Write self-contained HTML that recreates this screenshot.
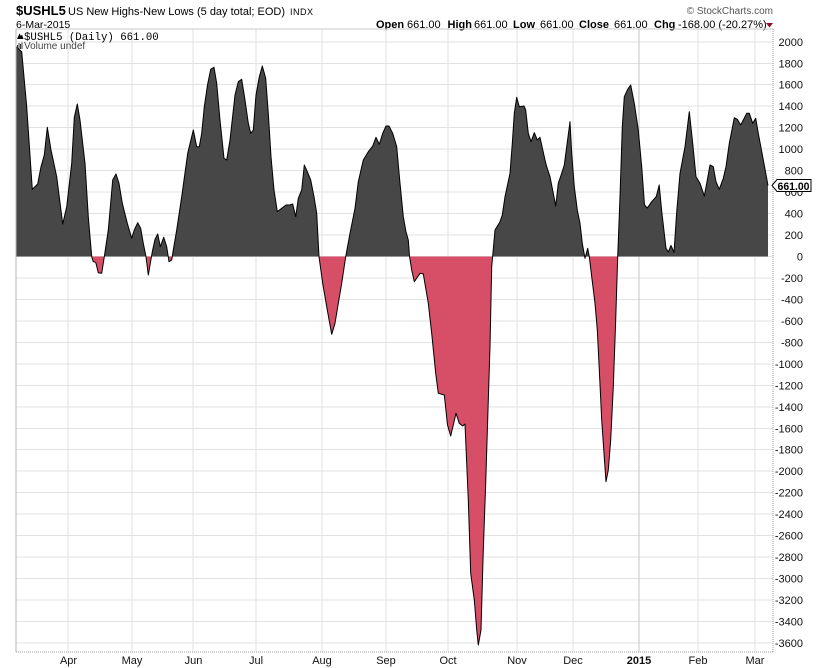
<!DOCTYPE html>
<html><head><meta charset="utf-8"><style>
html,body{margin:0;padding:0;background:#fff;}
svg{display:block;}
text{font-family:"Liberation Sans",Arial,sans-serif;}
</style></head><body>
<svg width="820" height="668" viewBox="0 0 820 668" xmlns="http://www.w3.org/2000/svg">
<rect x="0" y="0" width="820" height="668" fill="#fff"/>
<!-- header -->
<text x="16" y="15" font-size="13" font-weight="bold" fill="#000">$USHL5</text>
<text x="68" y="15" font-size="11" fill="#000">US New Highs-New Lows (5 day total; EOD)</text>
<text x="290" y="15" font-size="9" fill="#000" letter-spacing="0.5">INDX</text>
<text x="16" y="28" font-size="10.5" fill="#000">6-Mar-2015</text>
<text x="773" y="14" font-size="10" fill="#555" text-anchor="end">© StockCharts.com</text>
<g font-size="11" fill="#000">
<text x="376" y="28" font-weight="bold">Open</text>
<text x="407" y="28">661.00</text>
<text x="447.5" y="28" font-weight="bold">High</text>
<text x="474" y="28">661.00</text>
<text x="513" y="28" font-weight="bold">Low</text>
<text x="540" y="28">661.00</text>
<text x="579" y="28" font-weight="bold">Close</text>
<text x="614" y="28">661.00</text>
<text x="654" y="28" font-weight="bold">Chg</text>
<text x="678" y="28">-168.00 (-20.27%)</text>
</g>
<polygon points="766,23 773,23 769.5,27.5" fill="#8b0a2a"/>

<!-- grid -->
<g stroke="#e2e2e2" stroke-width="1" shape-rendering="crispEdges">
<line x1="16" y1="41.8" x2="773" y2="41.8"/>
<line x1="16" y1="63.3" x2="773" y2="63.3"/>
<line x1="16" y1="84.7" x2="773" y2="84.7"/>
<line x1="16" y1="106.2" x2="773" y2="106.2"/>
<line x1="16" y1="127.7" x2="773" y2="127.7"/>
<line x1="16" y1="149.2" x2="773" y2="149.2"/>
<line x1="16" y1="170.6" x2="773" y2="170.6"/>
<line x1="16" y1="192.1" x2="773" y2="192.1"/>
<line x1="16" y1="213.6" x2="773" y2="213.6"/>
<line x1="16" y1="235.0" x2="773" y2="235.0"/>
<line x1="16" y1="256.5" x2="773" y2="256.5"/>
<line x1="16" y1="278.0" x2="773" y2="278.0"/>
<line x1="16" y1="299.4" x2="773" y2="299.4"/>
<line x1="16" y1="320.9" x2="773" y2="320.9"/>
<line x1="16" y1="342.4" x2="773" y2="342.4"/>
<line x1="16" y1="363.9" x2="773" y2="363.9"/>
<line x1="16" y1="385.3" x2="773" y2="385.3"/>
<line x1="16" y1="406.8" x2="773" y2="406.8"/>
<line x1="16" y1="428.3" x2="773" y2="428.3"/>
<line x1="16" y1="449.7" x2="773" y2="449.7"/>
<line x1="16" y1="471.2" x2="773" y2="471.2"/>
<line x1="16" y1="492.7" x2="773" y2="492.7"/>
<line x1="16" y1="514.1" x2="773" y2="514.1"/>
<line x1="16" y1="535.6" x2="773" y2="535.6"/>
<line x1="16" y1="557.1" x2="773" y2="557.1"/>
<line x1="16" y1="578.6" x2="773" y2="578.6"/>
<line x1="16" y1="600.0" x2="773" y2="600.0"/>
<line x1="16" y1="621.5" x2="773" y2="621.5"/>
<line x1="16" y1="643.0" x2="773" y2="643.0"/>
<line x1="68" y1="29" x2="68" y2="652"/>
<line x1="132" y1="29" x2="132" y2="652"/>
<line x1="193" y1="29" x2="193" y2="652"/>
<line x1="256" y1="29" x2="256" y2="652"/>
<line x1="322" y1="29" x2="322" y2="652"/>
<line x1="386" y1="29" x2="386" y2="652"/>
<line x1="448" y1="29" x2="448" y2="652"/>
<line x1="517" y1="29" x2="517" y2="652"/>
<line x1="573" y1="29" x2="573" y2="652"/>
<line x1="698" y1="29" x2="698" y2="652"/>
<line x1="755" y1="29" x2="755" y2="652"/>
</g>
<line x1="639" y1="29" x2="639" y2="652" stroke="#c4c4c4" shape-rendering="crispEdges"/>

<!-- series -->
<defs>
<clipPath id="top"><rect x="0" y="0" width="820" height="256.5"/></clipPath>
<clipPath id="bot"><rect x="0" y="256.5" width="820" height="420"/></clipPath>
<path id="area" d="M16.5,256.5 L16.5,47 L21.7,51.7 L26.7,106.7 L32.3,189.3 L37.7,184 L41,166.7 L44.3,155 L47.3,127.3 L51,150 L56.7,176.7 L62.7,224 L66.7,206.7 L71.7,163.3 L74.3,117.3 L77.3,104 L80,120 L85,163.3 L88.3,216.7 L91.7,256.7 L93.3,261.7 L95.7,262.3 L98.3,272.7 L101.7,273.3 L104.3,256.7 L108.3,230 L112.7,180 L116,174 L119,183.3 L122.3,203.3 L127.3,223.3 L131.7,238.3 L134.3,230 L137.7,222.7 L140.7,228.3 L143.3,243.3 L146,256.7 L148.3,275 L150.3,263.3 L152.3,251.7 L155,239.3 L157.7,234 L160.3,246.7 L163.7,237.3 L166.7,246.7 L169,261.7 L171.7,260 L173.3,250 L176.7,230 L181.7,196.7 L187.7,153.3 L193.3,130 L196.7,146.7 L199.3,146.7 L201.7,133.3 L204.3,106.7 L207.5,85 L210.7,69.3 L214,67.3 L216.7,83.3 L220,120 L224,158.3 L226.7,160 L230,140 L235,95 L238.3,81.7 L241.7,79.3 L245,100 L248.3,123.3 L250.7,133.3 L253.3,130 L256,95 L259.3,76.7 L262.3,66 L265.7,78.3 L268.3,113.3 L271,156.7 L274,190 L277.3,211.7 L281.7,208.3 L286,205 L290,205 L292.7,204 L295.7,216.7 L298.3,198.3 L301.7,190 L304.3,165 L307.3,171.7 L310.7,180 L314,196.7 L316.7,213.3 L319,256.7 L322.7,283.3 L327.3,310 L331.7,334.3 L335,323.3 L338.3,303.3 L341.7,283.3 L345.7,256.7 L350,233.3 L355,208.3 L358.3,181.7 L363.3,160 L368.3,151.7 L372.7,146 L376,137.3 L379.3,144.3 L382.7,133.3 L386,126 L389,126 L392.7,133.3 L396.7,146.7 L400,183.3 L403.3,216.7 L406,231.7 L408.3,240 L409.5,256 L411.7,270 L414.3,281.7 L420,273.3 L423.3,274 L428.3,303.3 L431.7,333.3 L435.7,373.3 L438.3,393.3 L441,394 L444.3,395 L447.5,425 L450.7,436 L456,413.3 L459.3,423.3 L462.7,426 L465,424 L468.3,500 L470.7,573.3 L474.3,600 L476.7,630 L478.3,645 L481,630 L483.3,550 L485.7,483.3 L488.3,400 L490,346.7 L491.7,266.7 L492.7,255.7 L495,230 L500,221.7 L502.3,215 L505,196.7 L510,173.3 L512.3,143.3 L514.3,113.3 L516.7,97.3 L519.3,106.7 L524,106 L525.7,110 L528.3,133.3 L531,141.7 L534.3,132.7 L537.3,140 L540,137.3 L545,160 L546.7,166.7 L550,176.7 L553.3,193.3 L555.7,206 L558.3,183.3 L561.7,173.3 L564.3,165 L566.7,146.7 L570,121.7 L571.7,153.3 L574.3,186.7 L577.3,210 L580,223.3 L582.3,243.3 L585,258.3 L587.7,248.3 L589.3,256.7 L591.7,276.7 L595,303.3 L597.3,330 L599.3,370 L601.7,420 L604,453.3 L606,481.7 L608.3,470 L610.7,440 L613.3,386.7 L615.7,320 L617.7,256.7 L620,196.7 L622.3,126.7 L624.3,96.7 L627.7,89.3 L630.7,85 L634.3,103.3 L638.3,130 L641.7,166.7 L644.5,205 L647.3,208 L651.7,201.7 L656.3,196.5 L659.2,185 L661.7,211 L666,248.3 L668.3,252 L671,245.5 L674,252.5 L676.7,212 L680,173.3 L685,146.7 L689.3,111.7 L692.7,143.3 L696,176.7 L700,183.3 L704.3,196 L706.7,183.3 L710,165 L713.3,166.7 L716,181.7 L719.3,189.3 L723.3,178.3 L726,166.7 L729.3,143.3 L734.3,117.7 L737.3,119.3 L740.7,125 L743.3,120 L746.7,113.3 L749.3,113.3 L752.7,123.3 L755.7,118.3 L758.3,133.3 L762.7,156.7 L768,185.5 L768,256.5 Z"/>
</defs>
<use href="#area" fill="#474747" clip-path="url(#top)"/>
<use href="#area" fill="#d64f66" clip-path="url(#bot)"/>
<path fill="none" stroke="#000" stroke-width="1" stroke-linejoin="round" d="M16.5,47 L21.7,51.7 L26.7,106.7 L32.3,189.3 L37.7,184 L41,166.7 L44.3,155 L47.3,127.3 L51,150 L56.7,176.7 L62.7,224 L66.7,206.7 L71.7,163.3 L74.3,117.3 L77.3,104 L80,120 L85,163.3 L88.3,216.7 L91.7,256.7 L93.3,261.7 L95.7,262.3 L98.3,272.7 L101.7,273.3 L104.3,256.7 L108.3,230 L112.7,180 L116,174 L119,183.3 L122.3,203.3 L127.3,223.3 L131.7,238.3 L134.3,230 L137.7,222.7 L140.7,228.3 L143.3,243.3 L146,256.7 L148.3,275 L150.3,263.3 L152.3,251.7 L155,239.3 L157.7,234 L160.3,246.7 L163.7,237.3 L166.7,246.7 L169,261.7 L171.7,260 L173.3,250 L176.7,230 L181.7,196.7 L187.7,153.3 L193.3,130 L196.7,146.7 L199.3,146.7 L201.7,133.3 L204.3,106.7 L207.5,85 L210.7,69.3 L214,67.3 L216.7,83.3 L220,120 L224,158.3 L226.7,160 L230,140 L235,95 L238.3,81.7 L241.7,79.3 L245,100 L248.3,123.3 L250.7,133.3 L253.3,130 L256,95 L259.3,76.7 L262.3,66 L265.7,78.3 L268.3,113.3 L271,156.7 L274,190 L277.3,211.7 L281.7,208.3 L286,205 L290,205 L292.7,204 L295.7,216.7 L298.3,198.3 L301.7,190 L304.3,165 L307.3,171.7 L310.7,180 L314,196.7 L316.7,213.3 L319,256.7 L322.7,283.3 L327.3,310 L331.7,334.3 L335,323.3 L338.3,303.3 L341.7,283.3 L345.7,256.7 L350,233.3 L355,208.3 L358.3,181.7 L363.3,160 L368.3,151.7 L372.7,146 L376,137.3 L379.3,144.3 L382.7,133.3 L386,126 L389,126 L392.7,133.3 L396.7,146.7 L400,183.3 L403.3,216.7 L406,231.7 L408.3,240 L409.5,256 L411.7,270 L414.3,281.7 L420,273.3 L423.3,274 L428.3,303.3 L431.7,333.3 L435.7,373.3 L438.3,393.3 L441,394 L444.3,395 L447.5,425 L450.7,436 L456,413.3 L459.3,423.3 L462.7,426 L465,424 L468.3,500 L470.7,573.3 L474.3,600 L476.7,630 L478.3,645 L481,630 L483.3,550 L485.7,483.3 L488.3,400 L490,346.7 L491.7,266.7 L492.7,255.7 L495,230 L500,221.7 L502.3,215 L505,196.7 L510,173.3 L512.3,143.3 L514.3,113.3 L516.7,97.3 L519.3,106.7 L524,106 L525.7,110 L528.3,133.3 L531,141.7 L534.3,132.7 L537.3,140 L540,137.3 L545,160 L546.7,166.7 L550,176.7 L553.3,193.3 L555.7,206 L558.3,183.3 L561.7,173.3 L564.3,165 L566.7,146.7 L570,121.7 L571.7,153.3 L574.3,186.7 L577.3,210 L580,223.3 L582.3,243.3 L585,258.3 L587.7,248.3 L589.3,256.7 L591.7,276.7 L595,303.3 L597.3,330 L599.3,370 L601.7,420 L604,453.3 L606,481.7 L608.3,470 L610.7,440 L613.3,386.7 L615.7,320 L617.7,256.7 L620,196.7 L622.3,126.7 L624.3,96.7 L627.7,89.3 L630.7,85 L634.3,103.3 L638.3,130 L641.7,166.7 L644.5,205 L647.3,208 L651.7,201.7 L656.3,196.5 L659.2,185 L661.7,211 L666,248.3 L668.3,252 L671,245.5 L674,252.5 L676.7,212 L680,173.3 L685,146.7 L689.3,111.7 L692.7,143.3 L696,176.7 L700,183.3 L704.3,196 L706.7,183.3 L710,165 L713.3,166.7 L716,181.7 L719.3,189.3 L723.3,178.3 L726,166.7 L729.3,143.3 L734.3,117.7 L737.3,119.3 L740.7,125 L743.3,120 L746.7,113.3 L749.3,113.3 L752.7,123.3 L755.7,118.3 L758.3,133.3 L762.7,156.7 L768,185.5"/>

<!-- borders -->
<g shape-rendering="crispEdges">
<line x1="16" y1="29" x2="773" y2="29" stroke="#c8c8c8"/>
<line x1="16" y1="29" x2="16" y2="652" stroke="#b4b4b4"/>
<line x1="16" y1="652" x2="773" y2="652" stroke="#999" stroke-dasharray="1,1"/>
<line x1="773" y1="29" x2="773" y2="652" stroke="#999" stroke-dasharray="1,1"/>
</g>

<!-- legend -->
<polygon points="17,39 19.5,33.5 21,36 22,34.5 23.5,39" fill="#000"/>
<text x="24" y="40" font-size="10.7" fill="#000" style="font-family:'Liberation Mono',monospace">$USHL5 (Daily) 661.00</text>
<g fill="#333">
<rect x="17" y="45" width="1" height="4"/>
<rect x="18.5" y="43" width="1" height="6"/>
<rect x="20" y="44" width="1" height="5"/>
<rect x="21.5" y="42.5" width="1" height="6.5"/>
</g>
<text x="24" y="49" font-size="10" fill="#444">Volume undef</text>

<!-- y labels -->
<g font-size="11" fill="#111" text-anchor="end">
<text x="803" y="45.8">2000</text>
<text x="803" y="67.3">1800</text>
<text x="803" y="88.7">1600</text>
<text x="803" y="110.2">1400</text>
<text x="803" y="131.7">1200</text>
<text x="803" y="153.2">1000</text>
<text x="803" y="174.6">800</text>
<text x="803" y="196.1">600</text>
<text x="803" y="217.6">400</text>
<text x="803" y="239.0">200</text>
<text x="803" y="260.5">0</text>
<text x="803" y="282.0">-200</text>
<text x="803" y="303.4">-400</text>
<text x="803" y="324.9">-600</text>
<text x="803" y="346.4">-800</text>
<text x="803" y="367.9">-1000</text>
<text x="803" y="389.3">-1200</text>
<text x="803" y="410.8">-1400</text>
<text x="803" y="432.3">-1600</text>
<text x="803" y="453.7">-1800</text>
<text x="803" y="475.2">-2000</text>
<text x="803" y="496.7">-2200</text>
<text x="803" y="518.1">-2400</text>
<text x="803" y="539.6">-2600</text>
<text x="803" y="561.1">-2800</text>
<text x="803" y="582.6">-3000</text>
<text x="803" y="604.0">-3200</text>
<text x="803" y="625.5">-3400</text>
<text x="803" y="647.0">-3600</text>
</g>

<!-- value tag -->
<polygon points="772,185.5 777,179.5 811,179.5 811,191.5 777,191.5" fill="#fff" stroke="#000" stroke-width="1"/>
<text x="777.5" y="189.8" font-size="11" font-weight="bold" fill="#000" textLength="32" lengthAdjust="spacingAndGlyphs">661.00</text>

<!-- x labels -->
<g font-size="11" fill="#111" text-anchor="middle">
<text x="68.5" y="664">Apr</text>
<text x="132" y="664">May</text>
<text x="193.5" y="664">Jun</text>
<text x="256" y="664">Jul</text>
<text x="322" y="664">Aug</text>
<text x="386" y="664">Sep</text>
<text x="448" y="664">Oct</text>
<text x="517" y="664">Nov</text>
<text x="573" y="664">Dec</text>
<text x="639" y="664" font-weight="bold">2015</text>
<text x="698" y="664">Feb</text>
<text x="755" y="664">Mar</text>
</g>
</svg>
</body></html>
